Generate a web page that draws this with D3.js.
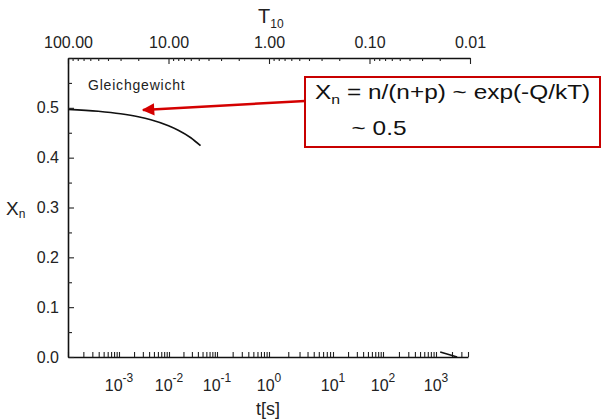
<!DOCTYPE html>
<html>
<head>
<meta charset="utf-8">
<script src="https://cdn.jsdelivr.net/npm/d3@7"></script>
<style>
  body { margin: 0; background: #fff; }
  svg { display: block; font-family: "Liberation Sans", Arial, sans-serif; }
</style>
</head>
<body>
<svg id="chart" width="602" height="420"></svg>
<script>
// equilibrium curve (T10 on top axis, Xn on left axis)
const eqT10 = [100, 50, 30, 20, 15, 10, 8, 6, 4.8];
const eqXn = [0.497, 0.493, 0.488, 0.482, 0.476, 0.464, 0.455, 0.440, 0.424];

// small leftover piece of a curve near the bottom right (t in s)
const tailT = [1200, 2500];
const tailXn = [0.010, 0.0];

const topTicks = [100, 10, 1, 0.1, 0.01];
const bottomDecades = [-3, -2, -1, 0, 1, 2, 3];
const yTicks = [0, 0.1, 0.2, 0.3, 0.4, 0.5];

const svg = d3.select("#chart");

// scales
const y = d3.scaleLinear().domain([0, 0.6]).range([357, 58]);
const xTop = d3.scaleLog().domain([100, 0.01]).range([68, 470]);
// the scanned time axis is not quite even, so one piece per decade
const xBottom = d3.scaleLog()
    .domain([1e-4, 1e-3, 1e-2, 1e-1, 1, 10, 100, 1000, 4000])
    .range([68, 119, 169, 217, 269, 333, 383, 436, 468]);

// minor tick helper: 1..9 x 10^e between lo and hi, both ends included
const logMinors = (lo, hi) => {
    let out = [];
    for (let e = Math.floor(Math.log10(lo)); e <= Math.ceil(Math.log10(hi)); e++) {
        for (let k = 1; k < 10; k++) {
            let v = +(k * Math.pow(10, e)).toPrecision(6);
            if (v >= lo * 0.999 && v <= hi * 1.001) out.push(v);
        }
    }
    return out;
};
const isIn = (list, d) => list.some((t) => Math.abs(t - d) < 1e-9 * Math.max(1, t));

// top axis (T10)
const topAxis = d3.axisTop(xTop)
    .tickValues(logMinors(0.01, 100))
    .tickSizeInner(-3)
    .tickSizeOuter(0)
    .tickPadding(10)
    .tickFormat((d) => isIn(topTicks, d) ? d3.format(".2f")(d) : "");

const gTop = svg.append("g")
    .attr("transform", "translate(0,58)")
    .call(topAxis);
gTop.selectAll(".tick line")
    .attr("y2", (d) => isIn(topTicks, d) ? 6 : 3);

// bottom axis (t[s])
const bottomAxis = d3.axisBottom(xBottom)
    .tickValues(logMinors(1e-4, 4000))
    .tickSizeInner(-5)
    .tickSizeOuter(0)
    .tickFormat("");

svg.append("g")
    .attr("transform", "translate(0,357)")
    .call(bottomAxis);

// left axis (Xn)
const leftAxis = d3.axisLeft(y)
    .tickValues(d3.range(0, 0.601, 0.05))
    .tickSizeInner(-3)
    .tickSizeOuter(0)
    .tickPadding(9)
    .tickFormat((d) => isIn(yTicks, d) ? d3.format(".1f")(d) : "");

const gLeft = svg.append("g")
    .attr("transform", "translate(68,0)")
    .call(leftAxis);
gLeft.selectAll(".tick line")
    .attr("x2", (d) => isIn(yTicks, d) ? 6 : 4);

svg.selectAll(".domain").attr("stroke", "#111").attr("stroke-width", 1.6);
svg.selectAll(".tick line").attr("stroke", "#222").attr("stroke-width", 1.1);
svg.selectAll(".tick text")
    .attr("font-size", 16)
    .attr("font-family", "Liberation Sans, Arial, sans-serif")
    .attr("fill", "#222");

// bottom labels 10^n
const bl = svg.append("g")
    .attr("font-size", 16)
    .attr("fill", "#222")
    .attr("text-anchor", "middle");
bottomDecades.forEach((e) => {
    let t = bl.append("text")
        .attr("x", xBottom(Math.pow(10, e)))
        .attr("y", 391);
    t.append("tspan").text("10");
    t.append("tspan").attr("font-size", 12).attr("dy", -9).text(e);
});

// axis titles
const tt = svg.append("text").attr("x", 258).attr("y", 23).attr("font-size", 20).attr("fill", "#222");
tt.append("tspan").text("T");
tt.append("tspan").attr("font-size", 12).attr("dy", 5).text("10");

const yt = svg.append("text").attr("x", 6).attr("y", 215).attr("font-size", 19).attr("fill", "#222");
yt.append("tspan").text("X");
yt.append("tspan").attr("font-size", 12).attr("dy", 3).text("n");

svg.append("text")
    .attr("x", 268).attr("y", 415)
    .attr("text-anchor", "middle")
    .attr("font-size", 18)
    .attr("fill", "#222")
    .text("t[s]");

svg.append("text")
    .attr("x", 88).attr("y", 90)
    .attr("font-size", 14)
    .attr("letter-spacing", 0.8)
    .attr("fill", "#222")
    .text("Gleichgewicht");

// curves
const eqLine = d3.line()
    .x((d, i) => xTop(eqT10[i]))
    .y((d) => y(d))
    .curve(d3.curveMonotoneX);

svg.append("path")
    .attr("d", eqLine(eqXn))
    .attr("fill", "none")
    .attr("stroke", "#111")
    .attr("stroke-width", 1.6);

const tailLine = d3.line()
    .x((d, i) => xBottom(tailT[i]))
    .y((d) => y(d));

svg.append("path")
    .attr("d", tailLine(tailXn))
    .attr("fill", "none")
    .attr("stroke", "#111")
    .attr("stroke-width", 1.6);

// annotation box and arrow
const red = "#d40000";
svg.append("defs").append("marker")
    .attr("id", "head")
    .attr("viewBox", "0 0 10 10")
    .attr("refX", 9).attr("refY", 5)
    .attr("markerWidth", 6).attr("markerHeight", 5)
    .attr("markerUnits", "strokeWidth")
    .attr("orient", "auto")
    .append("path")
    .attr("d", "M0,0 L10,5 L0,10 Z")
    .attr("fill", red);

svg.append("line")
    .attr("x1", 305).attr("y1", 101)
    .attr("x2", 143).attr("y2", 110)
    .attr("stroke", red)
    .attr("stroke-width", 2.5)
    .attr("marker-end", "url(#head)");

svg.append("rect")
    .attr("x", 305).attr("y", 77)
    .attr("width", 295).attr("height", 70)
    .attr("fill", "#fff")
    .attr("stroke", "#c80000")
    .attr("stroke-width", 2);

const ann = svg.append("g")
    .attr("transform", "translate(315,99) scale(1.22,1)")
    .attr("font-size", 20)
    .attr("fill", "#111");
const a1 = ann.append("text");
a1.append("tspan").text("X");
a1.append("tspan").attr("font-size", 13).attr("dy", 5).text("n");
a1.append("tspan").attr("dy", -5).text(" = n/(n+p) ~ exp(-Q/kT)");
ann.append("text")
    .attr("x", 30).attr("y", 36)
    .text("~ 0.5");
</script>
</body>
</html>
